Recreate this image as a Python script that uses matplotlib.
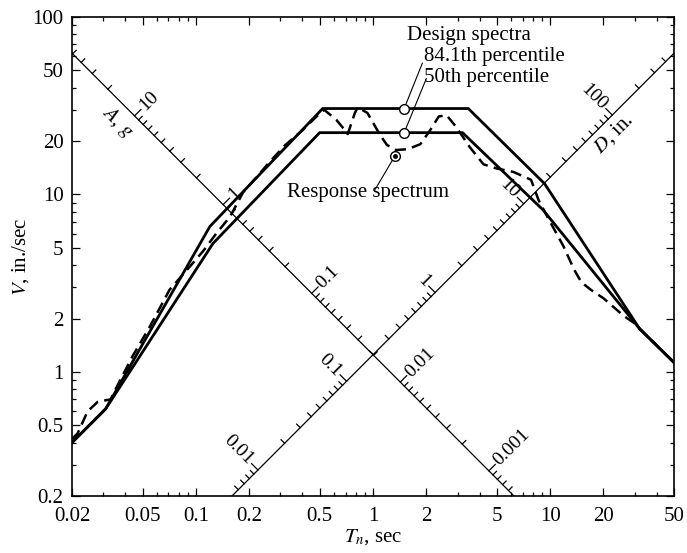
import numpy as np
import matplotlib.pyplot as plt
from matplotlib.ticker import FixedLocator, FixedFormatter, NullFormatter

plt.rcParams['font.family'] = 'serif'
plt.rcParams['font.serif'] = ['Liberation Serif', 'DejaVu Serif']
plt.rcParams['mathtext.fontset'] = 'stix'

# design spectra, 84.1th and 50th percentile (T in sec, V in in./sec)
T_84 = [0.02, 0.031, 0.12, 0.52, 3.45, 9.3, 32, 50]
V_84 = [0.40, 0.62, 6.6, 30.5, 30.5, 11.5, 1.75, 1.13]
T_50 = [0.02, 0.031, 0.125, 0.50, 3.2, 9.1, 32, 50]
V_50 = [0.40, 0.62, 5.3, 22.3, 22.3, 8.2, 1.75, 1.13]

# response spectrum (dashed)
T_resp = [0.02, 0.0215, 0.0245, 0.028, 0.033, 0.037, 0.044, 0.055, 0.071, 0.09,
          0.11, 0.13, 0.156, 0.185, 0.22, 0.26, 0.32, 0.40, 0.48, 0.53,
          0.62, 0.69, 0.72, 0.79, 0.82, 0.93, 1.0, 1.1, 1.2, 1.35,
          1.57, 1.85, 2.1, 2.35, 2.6, 2.95, 3.5, 4.2, 5.0, 6.2,
          7.8, 8.6, 10, 11.9, 13.6, 15, 17, 20, 26, 29.5, 33, 50]
V_resp = [0.42, 0.45, 0.60, 0.68, 0.70, 0.88, 1.23, 1.8, 2.9, 3.8,
          4.8, 6.0, 7.5, 10.3, 12.5, 15.2, 19, 23, 27.5, 30,
          26.4, 23.2, 21.9, 28.8, 31, 28.8, 25.4, 21.5, 19.0, 17.8,
          18.0, 19.2, 23, 27.5, 28, 24, 18.6, 14.8, 14.0, 13.4,
          12.1, 9.3, 7.0, 5.1, 3.8, 3.2, 2.9, 2.6, 2.07, 1.9, 1.7, 1.13]

x_major = [0.02, 0.05, 0.1, 0.2, 0.5, 1, 2, 5, 10, 20, 50]
x_labels = ['0.02', '0.05', '0.1', '0.2', '0.5', '1', '2', '5', '10', '20', '50']
y_major = [0.2, 0.5, 1, 2, 5, 10, 20, 50, 100]
y_labels = ['0.2', '0.5', '1', '2', '5', '10', '20', '50', '100']

A_labels = {10: '10', 1: '1', 0.1: '0.1', 0.01: '0.01', 0.001: '0.001'}
D_labels = {0.01: '0.01', 0.1: '0.1', 1: '1', 10: '10', 100: '100'}

C = 1.25      # V of the two diagonal axes at T = 1 sec
g = 386.4     # in./sec^2
px_dec = 177.3

fig = plt.figure(figsize=(6.87, 5.53), dpi=100)
ax = fig.add_axes([72/687, 57/553, 602/687, 479/553])
ax.set_xscale('log')
ax.set_yscale('log')
ax.set_xlim(0.02, 50)
ax.set_ylim(0.2, 100)

# spectra
ax.plot(T_84, V_84, color='black', lw=2.0, solid_joinstyle='miter')
ax.plot(T_50, V_50, color='black', lw=2.0, solid_joinstyle='miter')
ax.plot(T_resp, V_resp, color='black', lw=1.8, dashes=(4.5, 2.5))


def tick_seg(T, V, L, sx, sy):
    d = L / (px_dec * np.sqrt(2))
    return [T, T * 10**(sx * d)], [V, V * 10**(sy * d)]


vals = [m * 10.0**k for k in range(-5, 4) for m in range(1, 10)]

# A axis (V*T = C)
ax.plot([0.02, C / 0.2], [C / 0.02, 0.2], color='black', lw=0.9)
for A in vals:
    T = np.sqrt(2 * np.pi * C / (g * A))
    V = C / T
    if not (0.02 <= T <= 50 and 0.2 <= V <= 100):
        continue
    major = np.isclose(np.log10(A), round(np.log10(A)))
    xs, ys = tick_seg(T, V, 9 if major else 5, 1, 1)
    ax.plot(xs, ys, color='black', lw=0.9)
for A, lbl in A_labels.items():
    T = np.sqrt(2 * np.pi * C / (g * A))
    ax.annotate(lbl, xy=(T, C / T), xytext=(5.5, 5.5), textcoords='offset points',
                rotation=45, ha='left', va='center', rotation_mode='anchor', fontsize=14)
ax.annotate(r'$A$, $g$', xy=(0.042, C / 0.042), xytext=(-8.5, -8.5),
            textcoords='offset points', rotation=-45, ha='center', va='center', fontsize=15)

# D axis (V = C*T)
ax.plot([0.2 / C, 50], [0.2, C * 50], color='black', lw=0.9)
for D in vals:
    T = np.sqrt(2 * np.pi * D / C)
    V = C * T
    if not (0.02 <= T <= 50 and 0.2 <= V <= 100):
        continue
    major = np.isclose(np.log10(D), round(np.log10(D)))
    xs, ys = tick_seg(T, V, 9 if major else 5, -1, 1)
    ax.plot(xs, ys, color='black', lw=0.9)
for D, lbl in D_labels.items():
    T = np.sqrt(2 * np.pi * D / C)
    ax.annotate(lbl, xy=(T, C * T), xytext=(-5.5, 5.5), textcoords='offset points',
                rotation=-45, ha='right', va='center', rotation_mode='anchor', fontsize=14)
T_d = np.sqrt(2 * np.pi * 80 / C)
ax.annotate(r'$D$, in.', xy=(T_d, C * T_d), xytext=(7, -7),
            textcoords='offset points', rotation=45, ha='center', va='center', fontsize=15)

# markers and callouts
ax.plot([1.5, 1.5], [30.5, 22.3], 'o', ms=7, mfc='white', mec='black', mew=1.0, zorder=5)
ax.plot(1.33, 16.5, 'o', ms=7, mfc='white', mec='black', mew=1.0, zorder=5)
ax.plot(1.33, 16.5, 'o', ms=2.5, color='black', zorder=6)
lead = dict(arrowstyle='-', lw=0.8, color='black', shrinkA=0, shrinkB=3.5)
ax.annotate('', xy=(1.5, 30.5), xytext=(1.9, 55), arrowprops=lead)
ax.annotate('', xy=(1.5, 22.3), xytext=(2.0, 45), arrowprops=lead)
ax.annotate('', xy=(1.33, 16.5), xytext=(1.03, 10.7), arrowprops=lead)
ax.text(1.56, 79, 'Design spectra', fontsize=15, ha='left', va='center')
ax.text(1.95, 59.6, '84.1th percentile', fontsize=15, ha='left', va='center')
ax.text(1.95, 45.4, '50th percentile', fontsize=15, ha='left', va='center')
ax.text(0.328, 10.2, 'Response spectrum', fontsize=15, ha='left', va='center')

# axes ticks
ax.xaxis.set_major_locator(FixedLocator(x_major))
ax.xaxis.set_major_formatter(FixedFormatter(x_labels))
ax.xaxis.set_minor_locator(FixedLocator(
    [m * 10.0**k for k in range(-2, 2) for m in range(2, 10)]))
ax.xaxis.set_minor_formatter(NullFormatter())
ax.yaxis.set_major_locator(FixedLocator(y_major))
ax.yaxis.set_major_formatter(FixedFormatter(y_labels))
ax.yaxis.set_minor_locator(FixedLocator(
    [m * 10.0**k for k in range(-1, 2) for m in range(2, 10)]))
ax.yaxis.set_minor_formatter(NullFormatter())
ax.tick_params(which='both', direction='in', top=True, right=True, labelsize=15, width=0.9)
ax.tick_params(which='major', length=6)
ax.tick_params(which='minor', length=3)
ax.tick_params(axis='x', which='major', pad=8)
ax.tick_params(axis='y', which='major', pad=6)
for s in ax.spines.values():
    s.set_linewidth(1.2)

ax.set_xlabel(r'$T_n$, sec', fontsize=15, labelpad=1)
ax.set_ylabel(r'$V$, in./sec', fontsize=15, labelpad=1)

fig.savefig('out.png', dpi=100)
